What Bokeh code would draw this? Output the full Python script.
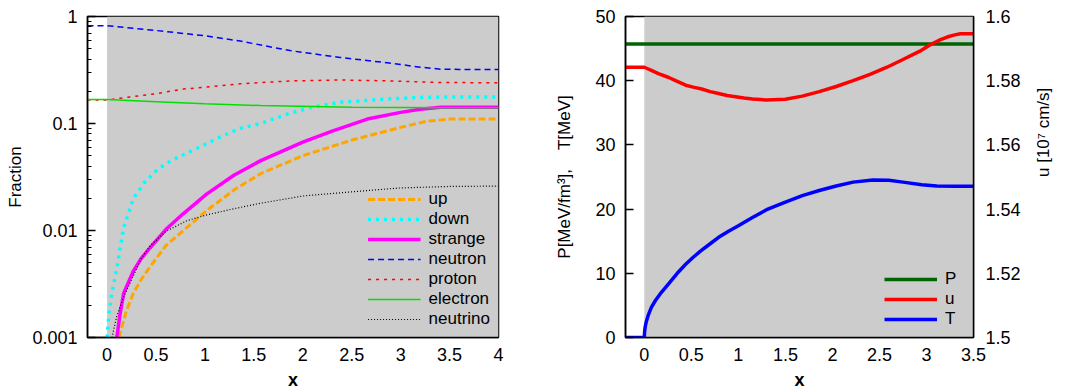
import math
from bokeh.plotting import figure
from bokeh.layouts import row
from bokeh.models import (BoxAnnotation, FixedTicker, CustomJSTickFormatter, LinearAxis,
                          Range1d, Legend, LegendItem)
from bokeh.embed import file_html
from bokeh.resources import INLINE

# ---------------- left panel data (fractions vs x) ----------------
x_up = [0.12, 0.2, 0.27, 0.35, 0.44, 0.6, 0.78, 1.02, 1.3, 1.57, 2.0, 2.5, 3.0, 3.27, 3.5, 4.0]
up = [0.001, 0.0018, 0.0026, 0.0035, 0.0046, 0.0072, 0.010, 0.0154, 0.024, 0.034, 0.05, 0.07, 0.092, 0.105, 0.11, 0.11]

x_down = [0.0, 0.02, 0.05, 0.1, 0.17, 0.27, 0.38, 0.5, 0.6, 0.7, 0.82, 1.02, 1.2, 1.36, 1.57, 1.87, 2.1, 2.38, 2.9, 3.24, 3.6, 4.0]
down = [0.001, 0.0017, 0.0026, 0.0045, 0.0107, 0.020, 0.028, 0.036, 0.042, 0.047, 0.053, 0.065, 0.078, 0.09, 0.10, 0.125, 0.142, 0.158, 0.170, 0.176, 0.177, 0.177]

x_strange = [0.1, 0.13, 0.17, 0.2, 0.27, 0.35, 0.44, 0.6, 0.78, 1.02, 1.3, 1.57, 2.0, 2.3, 2.66, 3.0, 3.2, 3.41, 3.7, 4.0]
strange = [0.001, 0.0016, 0.0026, 0.003, 0.0042, 0.0055, 0.0069, 0.0102, 0.0144, 0.022, 0.033, 0.045, 0.067, 0.085, 0.11, 0.127, 0.136, 0.142, 0.142, 0.142]

x_neutron = [-0.2, 0.0, 0.5, 1.0, 1.36, 1.87, 2.38, 2.9, 3.2, 3.41, 3.6, 4.0]
neutron = [0.82, 0.82, 0.74, 0.66, 0.59, 0.48, 0.414, 0.366, 0.336, 0.322, 0.32, 0.32]

x_proton = [-0.2, 0.0, 0.5, 0.78, 1.0, 1.36, 1.87, 2.38, 2.9, 3.4, 4.0]
proton = [0.166, 0.166, 0.19, 0.21, 0.218, 0.235, 0.25, 0.255, 0.25, 0.242, 0.24]

x_electron = [-0.2, 0.0, 0.5, 1.0, 1.57, 2.5, 3.5, 4.0]
electron = [0.168, 0.168, 0.16, 0.153, 0.147, 0.142, 0.14, 0.14]

x_neutrino = [0.05, 0.1, 0.17, 0.27, 0.35, 0.44, 0.6, 0.82, 1.02, 1.3, 1.57, 2.0, 2.5, 3.0, 3.5, 4.0]
neutrino = [0.001, 0.0016, 0.0024, 0.0038, 0.0055, 0.0072, 0.0098, 0.0124, 0.014, 0.016, 0.018, 0.021, 0.023, 0.025, 0.0258, 0.026]

left_y_ticks = [0.001, 0.01, 0.1, 1]
left_x_ticks = [0, 0.5, 1, 1.5, 2, 2.5, 3, 3.5, 4]

# ---------------- right panel data ----------------
x_P = [-0.2, 3.5]
P = [45.7, 45.7]

x_u = [-0.2, 0.0, 0.03, 0.075, 0.15, 0.26, 0.35, 0.44, 0.52, 0.61, 0.7, 0.79, 0.88, 0.97,
       1.06, 1.15, 1.3, 1.5, 1.68, 1.86, 2.04, 2.22, 2.4, 2.58, 2.75, 2.93, 3.04, 3.15,
       3.22, 3.29, 3.36, 3.5]
u = [1.5842, 1.5842, 1.5838, 1.5832, 1.5822, 1.5810, 1.5798, 1.5786, 1.5780, 1.5774, 1.5766, 1.5760, 1.5754, 1.5750,
     1.5746, 1.5743, 1.5740, 1.5742, 1.5752, 1.5766, 1.5782, 1.5800, 1.5820, 1.5842, 1.5866, 1.5892, 1.5912, 1.5928,
     1.5936, 1.5942, 1.5946, 1.5946]

x_T = [-0.2, 0.0, 0.003, 0.01, 0.02, 0.04, 0.075, 0.12, 0.18, 0.26, 0.35, 0.44, 0.52, 0.6, 0.7, 0.79,
       0.9, 1.0, 1.15, 1.3, 1.5, 1.68, 1.86, 2.04, 2.22, 2.43, 2.6, 2.75, 2.95, 3.11, 3.3, 3.5]
T = [0, 0, 0.9, 1.7, 2.4, 3.4, 4.7, 5.8, 7.0, 8.4, 10.0, 11.4, 12.5, 13.5, 14.6, 15.6,
     16.6, 17.4, 18.7, 19.9, 21.1, 22.1, 22.9, 23.6, 24.2, 24.55, 24.5, 24.2, 23.8, 23.6, 23.55, 23.55]

right_y_ticks = [0, 10, 20, 30, 40, 50]
u_ticks = [1.5, 1.52, 1.54, 1.56, 1.58, 1.6]
right_x_ticks = [0, 0.5, 1, 1.5, 2, 2.5, 3, 3.5]

FONT = "Liberation Sans"
GREY = "#cccccc"
fmt_code = "return String(parseFloat(tick.toFixed(4)));"


def style_axis(ax, label_size="17px"):
    ax.major_label_text_font = FONT
    ax.major_label_text_font_size = "18px"
    ax.major_label_text_color = "black"
    ax.axis_label_text_font = FONT
    ax.axis_label_text_font_size = label_size
    ax.axis_label_text_font_style = "normal"
    ax.axis_label_text_color = "black"
    ax.axis_line_color = "black"
    ax.axis_line_width = 1.5
    ax.formatter = CustomJSTickFormatter(code=fmt_code)


def make_legend(items):
    return Legend(items=items, location="bottom_right", background_fill_alpha=0, border_line_alpha=0,
                  label_text_font=FONT, label_text_font_size="17px", label_text_color="black",
                  label_text_line_height=0.9,
                  glyph_width=53, glyph_height=18, label_height=18, spacing=0,
                  padding=4, margin=4, label_standoff=8)


# ---------------- left figure ----------------
p1 = figure(frame_width=411, frame_height=321, y_axis_type="log",
            x_range=Range1d(-0.2, 4), y_range=Range1d(0.001, 1),
            min_border_left=87, min_border_right=47, min_border_top=16, min_border_bottom=55,
            output_backend="svg", toolbar_location=None)
p1.grid.visible = False
p1.outline_line_color = "black"
p1.outline_line_width = 1.5
p1.add_layout(BoxAnnotation(left=0, fill_color=GREY, fill_alpha=1, line_alpha=0, level="underlay"))

minor = [m * d for d in [0.001, 0.01, 0.1] for m in range(2, 10)]
p1.yaxis.ticker = FixedTicker(ticks=left_y_ticks, minor_ticks=minor)
p1.xaxis.ticker = FixedTicker(ticks=left_x_ticks)
for ax in p1.yaxis:
    style_axis(ax, "17px")
    ax.axis_label = "Fraction"
    ax.major_tick_in = 8
    ax.major_tick_out = 0
    ax.minor_tick_in = 4
    ax.minor_tick_out = 0
    ax.major_tick_line_width = 1.5
    ax.major_label_standoff = 10
    ax.axis_label_standoff = 4
for ax in p1.xaxis:
    style_axis(ax, "18px")
    ax.axis_label = "x"
    ax.axis_label_text_font_style = "bold"
    ax.major_tick_in = 0
    ax.major_tick_out = 0
    ax.minor_tick_line_color = None
    ax.major_label_standoff = 10
    ax.axis_label_standoff = 6

series_left = [
    ("up", x_up, up, dict(line_color="#ffa500", line_width=3, line_dash="7 3")),
    ("down", x_down, down, dict(line_color="#00ffff", line_width=3.5, line_dash="3 5")),
    ("strange", x_strange, strange, dict(line_color="#ff00ff", line_width=3.5)),
    ("neutron", x_neutron, neutron, dict(line_color="#0000ff", line_width=1.5, line_dash="6 4")),
    ("proton", x_proton, proton, dict(line_color="#ff0000", line_width=1.5, line_dash="3 5")),
    ("electron", x_electron, electron, dict(line_color="#00e000", line_width=1.5)),
    ("neutrino", x_neutrino, neutrino, dict(line_color="black", line_width=1.2, line_dash="1 2")),
]
items1 = []
for name, xs, ys, st in series_left:
    r = p1.line(xs, ys, **st)
    items1.append(LegendItem(label=name, renderers=[r]))
p1.add_layout(make_legend(items1))

# ---------------- right figure ----------------
p2 = figure(frame_width=348, frame_height=321,
            x_range=Range1d(-0.2, 3.5), y_range=Range1d(0, 50),
            min_border_left=80, min_border_right=95, min_border_top=16, min_border_bottom=55,
            output_backend="svg", toolbar_location=None)
p2.grid.visible = False
p2.outline_line_color = "black"
p2.outline_line_width = 1.5
p2.extra_y_ranges = {"u": Range1d(1.5, 1.6)}
p2.add_layout(BoxAnnotation(left=0, fill_color=GREY, fill_alpha=1, line_alpha=0, level="underlay"))

p2.yaxis.ticker = FixedTicker(ticks=right_y_ticks)
p2.xaxis.ticker = FixedTicker(ticks=right_x_ticks)
for ax in p2.yaxis:
    style_axis(ax, "17px")
    ax.axis_label = "P[MeV/fm\u00b3],\u00a0\u00a0\u00a0\u00a0T[MeV]"
    ax.major_tick_in = 8
    ax.major_tick_out = 0
    ax.minor_tick_line_color = None
    ax.major_tick_line_width = 1.5
    ax.major_label_standoff = 10
    ax.axis_label_standoff = 18
for ax in p2.xaxis:
    style_axis(ax, "18px")
    ax.axis_label = "x"
    ax.axis_label_text_font_style = "bold"
    ax.major_tick_in = 0
    ax.major_tick_out = 0
    ax.minor_tick_line_color = None
    ax.major_label_standoff = 10
    ax.axis_label_standoff = 6

raxis = LinearAxis(y_range_name="u", ticker=FixedTicker(ticks=u_ticks))
style_axis(raxis, "17px")
raxis.axis_label = "u [10\u2077 cm/s]"
raxis.axis_label_orientation = math.pi / 2
raxis.major_tick_in = 0
raxis.major_tick_out = 0
raxis.minor_tick_line_color = None
raxis.major_label_standoff = 12
raxis.axis_label_standoff = 20
p2.add_layout(raxis, "right")

rP = p2.line(x_P, P, line_color="#006400", line_width=3.5)
ru = p2.line(x_u, u, line_color="#ff0000", line_width=3.5, y_range_name="u")
rT = p2.line(x_T, T, line_color="#0000ff", line_width=3.5)

p2.add_layout(make_legend([LegendItem(label="P", renderers=[rP]),
                           LegendItem(label="u", renderers=[ru]),
                           LegendItem(label="T", renderers=[rT])]))

layout = row(p1, p2)
open("out.html", "w").write(file_html(layout, INLINE))
